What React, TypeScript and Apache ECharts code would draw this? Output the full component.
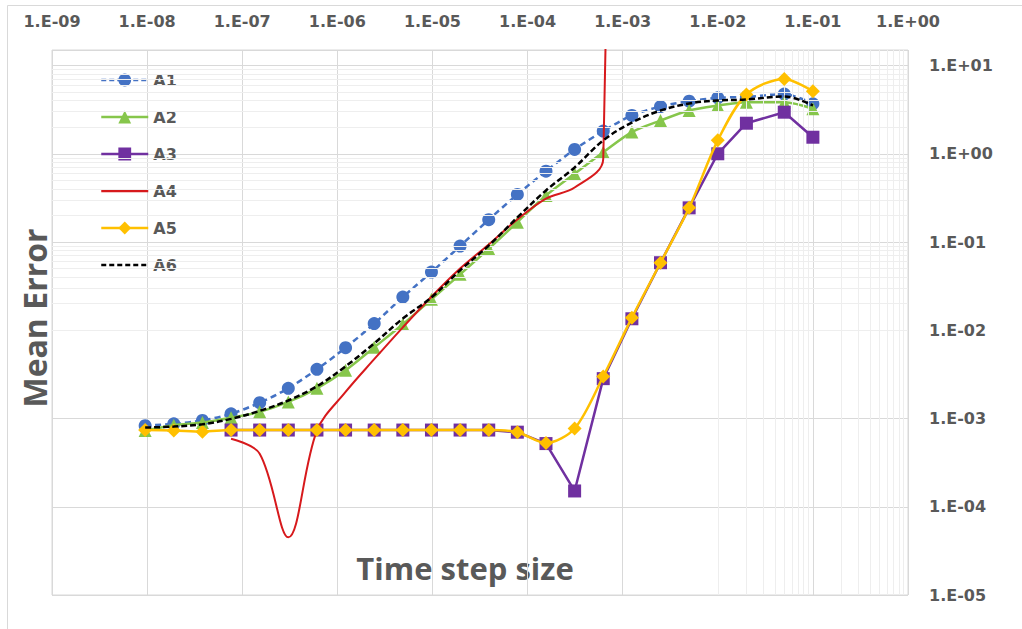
import React, { useEffect, useRef } from 'react';
import * as echarts from 'echarts';

// Time step sizes (x values)
const stepSizes = [
  9.5367e-9, 1.9073e-8, 3.8147e-8, 7.6294e-8, 1.5259e-7, 3.0518e-7, 6.1035e-7, 1.2207e-6,
  2.4414e-6, 4.8828e-6, 9.7656e-6, 1.9531e-5, 3.9063e-5, 7.8125e-5, 1.5625e-4, 3.125e-4,
  6.25e-4, 1.25e-3, 2.5e-3, 5e-3, 1e-2, 2e-2, 5e-2, 1e-1,
];

const seriesNames = ['A1', 'A2', 'A3', 'A4', 'A5', 'A6'];

const a1 = [
  8.3e-4, 8.7e-4, 9.5e-4, 1.13e-3, 1.51e-3, 2.2e-3, 3.61e-3, 6.35e-3,
  1.19e-2, 2.38e-2, 4.56e-2, 9.0e-2, 0.179, 0.346, 0.635, 1.12,
  1.81, 2.72, 3.43, 3.95, 4.31, 4.4, 4.75, 3.68,
];
const a2 = [
  7.3e-4, 8.4e-4, 9.0e-4, 1.02e-3, 1.19e-3, 1.54e-3, 2.2e-3, 3.52e-3,
  6.4e-3, 1.17e-2, 2.24e-2, 4.3e-2, 8.4e-2, 0.168, 0.337, 0.594,
  1.04, 1.76, 2.38, 3.09, 3.52, 3.84, 3.84, 3.24,
];
const a3 = [
  null, null, null, 7.4e-4, 7.4e-4, 7.4e-4, 7.4e-4, 7.4e-4,
  7.4e-4, 7.4e-4, 7.4e-4, 7.4e-4, 7.4e-4, 7.0e-4, 5.2e-4, 1.51e-4,
  2.83e-3, 1.35e-2, 5.83e-2, 0.244, 1.0, 2.22, 2.96, 1.54,
];
const a4 = [
  null, null, null, 5.9e-4, 4.0e-4, 4.5e-5, 7.3e-4, 2.0e-3,
  4.7e-3, 1.08e-2, 2.4e-2, 5.0e-2, 9.4e-2, 0.18, 0.31, 0.415,
  0.88, 1e30, null, null, null, null, null, null,
];
const a5 = [
  7.4e-4, 7.3e-4, 7.1e-4, 7.4e-4, 7.4e-4, 7.4e-4, 7.4e-4, 7.4e-4,
  7.4e-4, 7.4e-4, 7.4e-4, 7.4e-4, 7.4e-4, 7.0e-4, 5.28e-4, 7.7e-4,
  3.0e-3, 1.39e-2, 5.83e-2, 0.244, 1.42, 4.70, 7.06, 5.12,
];
const a6 = [
  7.9e-4, 8.1e-4, 8.6e-4, 9.9e-4, 1.22e-3, 1.6e-3, 2.32e-3, 3.9e-3,
  7.1e-3, 1.36e-2, 2.36e-2, 4.77e-2, 9.1e-2, 0.19, 0.384, 0.70,
  1.42, 2.26, 3.09, 3.71, 4.02, 4.12, 4.46, 3.52,
];

// axis ranges and log minor-grid multipliers
const xRange = [1e-9, 1];
const yRange = [1e-5, 15];
const xDecades = [-9, -8, -7, -6, -5, -4, -3, -2, -1];
const yDecades = [-5, -4, -3, -2, -1, 0];
const minorMultipliers = [2, 3, 4, 5, 6, 7, 8, 9];

const TEXT = '#595959';
const LABEL_FONT = 'DejaVu Sans';
const TITLE_FONT = 'Open Sans';

const C1 = '#4472c4';
const C2 = '#86c64b';
const C3 = '#7030a0';
const C4 = '#d7191c';
const C5 = '#ffc000';
const C6 = '#000000';

function sciLabel(v: number): string {
  const lg = Math.log10(v);
  const e = Math.round(lg);
  if (Math.abs(lg - e) > 1e-6) return '';
  const sign = e < 0 ? '-' : '+';
  return `1.E${sign}${String(Math.abs(e)).padStart(2, '0')}`;
}

function pairs(ys: (number | null)[]) {
  return stepSizes
    .map((x, i) => [x, ys[i]])
    .filter((p) => p[1] != null);
}

export default function App() {
  const ref = useRef<HTMLDivElement>(null);

  useEffect(() => {
    if (!ref.current) return;
    const chart = echarts.init(ref.current, undefined, { renderer: 'svg' });

    const xMinor = xDecades.flatMap((d) => minorMultipliers.map((m) => ({ xAxis: m * Math.pow(10, d) })));
    const yMinor = yDecades.flatMap((d) => minorMultipliers.map((m) => ({ yAxis: m * Math.pow(10, d) })));

    const lineBase = {
      type: 'line' as const,
      animation: false,
      emphasis: { disabled: true },
    };

    const axisLabel = {
      formatter: (v: number) => sciLabel(v),
      color: TEXT,
      fontSize: 16,
      fontWeight: 'bold',
      fontFamily: LABEL_FONT,
      margin: 21,
    };

    chart.setOption({
      animation: false,
      grid: {
        left: 52,
        right: 114,
        top: 50,
        bottom: 34,
        show: true,
        borderColor: '#d9d9d9',
        borderWidth: 1,
      },
      legend: {
        data: [
          { name: seriesNames[0], lineStyle: { width: 2.5, type: [5, 3] } },
          { name: seriesNames[1], lineStyle: { width: 2.5 } },
          { name: seriesNames[2], lineStyle: { width: 2.5 } },
          { name: seriesNames[3], lineStyle: { width: 2.5 }, itemStyle: { opacity: 0 } },
          { name: seriesNames[4], lineStyle: { width: 2.5 } },
          { name: seriesNames[5], lineStyle: { width: 2.5, type: [5, 3] }, itemStyle: { opacity: 0 } },
        ],
        orient: 'vertical',
        left: 100,
        top: 72,
        padding: 0,
        itemWidth: 47,
        itemHeight: 16,
        itemGap: 21,
        textStyle: { color: TEXT, fontSize: 16, fontWeight: 'bold', fontFamily: LABEL_FONT },
        selectedMode: false,
      },
      xAxis: {
        type: 'log',
        logBase: 10,
        min: xRange[0],
        max: xRange[1],
        interval: 1,
        position: 'top',
        axisLine: { show: false },
        axisTick: { show: false },
        axisLabel,
        splitLine: { show: true, lineStyle: { color: '#d9d9d9', width: 1 } },
      },
      yAxis: {
        type: 'log',
        logBase: 10,
        min: yRange[0],
        max: yRange[1],
        interval: 1,
        position: 'right',
        axisLine: { show: false },
        axisTick: { show: false },
        axisLabel,
        splitLine: { show: true, lineStyle: { color: '#d9d9d9', width: 1 } },
      },
      series: [
        {
          ...lineBase,
          name: 'minor-grid',
          data: [],
          z: 1,
          silent: true,
          markLine: {
            silent: true,
            symbol: ['none', 'none'],
            label: { show: false },
            animation: false,
            lineStyle: { color: '#eeeeee', width: 1, type: 'solid' },
            emphasis: { disabled: true },
            data: [...xMinor, ...yMinor],
          },
        },
        {
          ...lineBase,
          name: 'A1',
          data: pairs(a1),
          smooth: 0.3,
          symbol: 'circle',
          symbolSize: 13,
          itemStyle: { color: C1 },
          lineStyle: { color: C1, width: 2.5, type: [6, 4] },
          z: 3,
        },
        {
          ...lineBase,
          name: 'A2',
          data: pairs(a2),
          smooth: 0.3,
          symbol: 'triangle',
          symbolSize: 13,
          itemStyle: { color: C2 },
          lineStyle: { color: C2, width: 2.5 },
          z: 4,
        },
        {
          ...lineBase,
          name: 'A3',
          data: pairs(a3),
          smooth: false,
          symbol: 'rect',
          symbolSize: 13,
          itemStyle: { color: C3 },
          lineStyle: { color: C3, width: 2.5 },
          z: 5,
        },
        {
          ...lineBase,
          name: 'A4',
          data: pairs(a4),
          smooth: 0.35,
          symbol: 'none',
          showSymbol: false,
          itemStyle: { color: C4 },
          lineStyle: { color: C4, width: 2 },
          z: 6,
        },
        {
          ...lineBase,
          name: 'A5',
          data: pairs(a5),
          smooth: 0.3,
          symbol: 'diamond',
          symbolSize: 14,
          itemStyle: { color: C5 },
          lineStyle: { color: C5, width: 2.5 },
          z: 7,
        },
        {
          ...lineBase,
          name: 'A6',
          data: pairs(a6),
          smooth: 0.35,
          symbol: 'none',
          showSymbol: false,
          itemStyle: { color: C6 },
          lineStyle: { color: C6, width: 2.5, type: [6, 3] },
          z: 8,
        },
      ],
      graphic: [
        {
          type: 'rect',
          silent: true,
          shape: { x: 7.5, y: 5.5, width: 1100, height: 700 },
          style: { fill: 'none', stroke: '#d9d9d9', lineWidth: 1 },
        },
        {
          type: 'text',
          x: 34,
          y: 318,
          rotation: Math.PI / 2,
          silent: true,
          style: {
            text: 'Mean Error',
            fill: TEXT,
            fontSize: 32,
            fontWeight: 'bold',
            fontFamily: TITLE_FONT,
            align: 'center',
            verticalAlign: 'middle',
            textAlign: 'center',
            textVerticalAlign: 'middle',
          },
        },
        {
          type: 'text',
          x: 465,
          y: 568,
          silent: true,
          style: {
            text: 'Time step size',
            fill: TEXT,
            fontSize: 31,
            fontWeight: 'bold',
            fontFamily: TITLE_FONT,
            align: 'center',
            verticalAlign: 'middle',
            textAlign: 'center',
            textVerticalAlign: 'middle',
          },
        },
      ],
    });

    return () => {
      chart.dispose();
    };
  }, []);

  return (
    <div
      ref={ref}
      style={{ position: 'fixed', left: 0, top: 0, width: 1022, height: 629, background: '#ffffff' }}
    />
  );
}
